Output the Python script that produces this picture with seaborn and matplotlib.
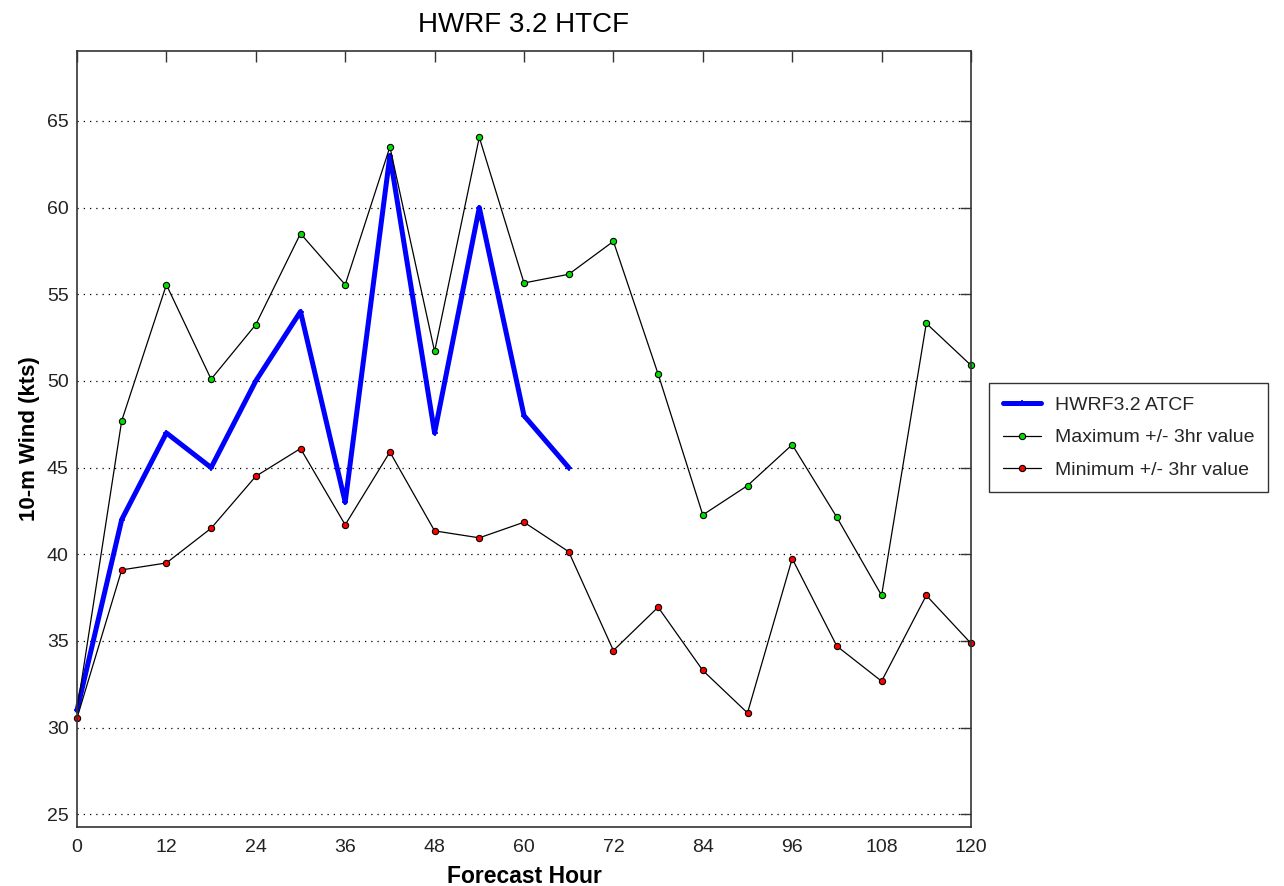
import matplotlib
matplotlib.use("Agg")
import matplotlib.pyplot as plt
import seaborn as sns
import pandas as pd

# Forecast hours and 10-m wind series (kts)
hours_atcf = [0, 6, 12, 18, 24, 30, 36, 42, 48, 54, 60, 66]
wind_atcf = [31, 42, 47, 45, 50, 54, 43, 63, 47, 60, 48, 45]

hours_env = [0, 6, 12, 18, 24, 30, 36, 42, 48, 54, 60, 66, 72, 78, 84, 90,
             96, 102, 108, 114, 120]
wind_max = [31.0, 47.7, 55.55, 50.1, 53.25, 58.5, 55.55, 63.5, 51.7, 64.05,
            55.65, 56.15, 58.05, 50.4, 42.27, 43.96, 46.32, 42.13, 37.63,
            53.32, 50.9]
wind_min = [30.55, 39.1, 39.5, 41.5, 44.5, 46.1, 41.7, 45.9, 41.35, 40.95,
            41.85, 40.15, 34.45, 36.95, 33.3, 30.85, 39.75, 34.7, 32.68,
            37.63, 34.86]

x_ticks = list(range(0, 121, 12))
y_ticks = list(range(25, 66, 5))

sns.set_theme(style="white")
plt.rcParams["font.family"] = ["Liberation Sans", "DejaVu Sans"]

fig = plt.figure(figsize=(12.84, 8.86), dpi=100)
ax = fig.add_axes([77 / 1284, 1 - 827 / 886, 894 / 1284, 776 / 886])

df_atcf = pd.DataFrame({"hour": hours_atcf, "wind": wind_atcf})
df_env = pd.DataFrame({"hour": hours_env, "max": wind_max, "min": wind_min})

sns.lineplot(data=df_atcf, x="hour", y="wind", ax=ax, color="#0000ff",
             linewidth=3.6, marker="+", markersize=5, markeredgewidth=1.2,
             markeredgecolor="#0000ff", label="HWRF3.2 ATCF", clip_on=False)
sns.lineplot(data=df_env, x="hour", y="max", ax=ax, color="black",
             linewidth=0.9, marker="o", markersize=4.5,
             markerfacecolor="#00e000", markeredgecolor="black",
             markeredgewidth=0.8, markevery=list(range(1, len(hours_env))),
             label="Maximum +/- 3hr value", clip_on=False)
sns.lineplot(data=df_env, x="hour", y="min", ax=ax, color="black",
             linewidth=0.9, marker="o", markersize=4.5,
             markerfacecolor="#ff0000", markeredgecolor="black",
             markeredgewidth=0.8, label="Minimum +/- 3hr value",
             clip_on=False)

ax.set_xlim(0, 120)
ax.set_ylim(24.27, 69.03)
ax.set_xticks(x_ticks)
ax.set_yticks(y_ticks)
ax.tick_params(axis="both", direction="in", length=8, width=1.0,
               top=True, right=True, labelsize=14, colors="#333333",
               labelcolor="#222222")
ax.tick_params(axis="x", pad=9)
ax.tick_params(axis="y", pad=6)
ax.grid(axis="y", linestyle=(0, (1, 4)), color="black", linewidth=0.9)
ax.grid(axis="x", visible=False)
for s in ax.spines.values():
    s.set_color("#333333")
    s.set_linewidth(1.2)

ax.set_xlabel("Forecast Hour", fontsize=16.5, fontweight="bold", labelpad=6,
              color="black")
ax.set_ylabel("10-m Wind (kts)", fontsize=16, fontweight="bold", labelpad=5,
              color="black")
ax.set_title("HWRF 3.2 HTCF", fontsize=20, pad=14, color="black")

leg = ax.legend(loc="upper left", bbox_to_anchor=(989 / 1284, 1 - 383 / 886),
                bbox_transform=fig.transFigure, fontsize=14, frameon=True,
                fancybox=False, handlelength=2.0, handletextpad=0.7,
                borderpad=0.7, labelspacing=0.75, borderaxespad=0)
leg.get_frame().set_edgecolor("black")
leg.get_frame().set_linewidth(1.0)

fig.savefig("out.png", dpi=100)
